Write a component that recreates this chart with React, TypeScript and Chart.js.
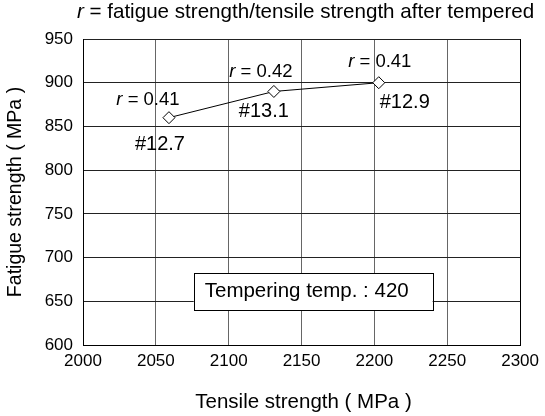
import React, { useEffect, useRef } from "react";
import { Chart, registerables } from "chart.js";

Chart.register(...registerables);

// Steel grades tempered at 420: tensile vs fatigue strength (MPa)
const tensileStrength = [2059, 2131, 2203];
const fatigueStrength = [860, 890, 900];
const ratioValues = ["0.41", "0.42", "0.41"];
const gradeLabels = ["#12.7", "#13.1", "#12.9"];

const xTickValues = [2000, 2050, 2100, 2150, 2200, 2250, 2300];
const yTickValues = [600, 650, 700, 750, 800, 850, 900, 950];

const titleRest = " = fatigue strength/tensile strength after tempered";
const xAxisTitle = "Tensile strength ( MPa )";
const yAxisTitle = "Fatigue strength ( MPa )";
const noteText = "Tempering temp. : 420";
// note box corners in data units (x from/to, y from/to)
const noteBoxX = [2076, 2240];
const noteBoxY = [640, 682];

const FONT = '"Liberation Sans", Arial, sans-serif';

function drawRText(
  ctx: CanvasRenderingContext2D,
  rest: string,
  cx: number,
  cy: number,
  size: number
) {
  ctx.font = `italic ${size}px ${FONT}`;
  const wr = ctx.measureText("r").width;
  ctx.font = `${size}px ${FONT}`;
  const wRest = ctx.measureText(rest).width;
  const x0 = cx - (wr + wRest) / 2;
  ctx.textAlign = "left";
  ctx.textBaseline = "middle";
  ctx.font = `italic ${size}px ${FONT}`;
  ctx.fillText("r", x0, cy);
  ctx.font = `${size}px ${FONT}`;
  ctx.fillText(rest, x0 + wr, cy);
}

const labelsPlugin = {
  id: "fatigueLabels",
  afterDraw(chart: any) {
    const ctx: CanvasRenderingContext2D = chart.ctx;
    const xs = chart.scales.x;
    const ys = chart.scales.y;
    const area = chart.chartArea;
    ctx.save();
    ctx.fillStyle = "#000";

    // heading
    drawRText(ctx, titleRest, (area.left + area.right) / 2 + 4, 12, 20.6);

    // axis titles
    ctx.font = `20.5px ${FONT}`;
    ctx.textAlign = "center";
    ctx.textBaseline = "middle";
    ctx.fillText(xAxisTitle, (area.left + area.right) / 2 + 2, 402);
    ctx.save();
    ctx.font = `19.5px ${FONT}`;
    ctx.translate(16, (area.top + area.bottom) / 2);
    ctx.rotate(-Math.PI / 2);
    ctx.fillText(yAxisTitle, 0, 0);
    ctx.restore();

    // per-point annotations
    const meta = chart.getDatasetMeta(0);
    const rOffsets = [
      [-21, -18],
      [-13, -20],
      [1, -21],
    ];
    const gOffsets = [
      [-9, 27],
      [-10, 20],
      [26, 20],
    ];
    meta.data.forEach((pt: any, i: number) => {
      drawRText(
        ctx,
        " = " + ratioValues[i],
        pt.x + rOffsets[i][0],
        pt.y + rOffsets[i][1],
        18.5
      );
      ctx.font = `20px ${FONT}`;
      ctx.textAlign = "center";
      ctx.textBaseline = "middle";
      ctx.fillText(gradeLabels[i], pt.x + gOffsets[i][0], pt.y + gOffsets[i][1]);
    });

    // tempering note box
    const bx0 = xs.getPixelForValue(noteBoxX[0]);
    const bx1 = xs.getPixelForValue(noteBoxX[1]);
    const by0 = ys.getPixelForValue(noteBoxY[1]);
    const by1 = ys.getPixelForValue(noteBoxY[0]);
    ctx.fillStyle = "#fff";
    ctx.fillRect(bx0, by0, bx1 - bx0, by1 - by0);
    ctx.strokeStyle = "#000";
    ctx.lineWidth = 1;
    ctx.strokeRect(Math.round(bx0) + 0.5, Math.round(by0) + 0.5, Math.round(bx1 - bx0), Math.round(by1 - by0));
    ctx.fillStyle = "#000";
    ctx.font = `20.5px ${FONT}`;
    ctx.textAlign = "left";
    ctx.textBaseline = "middle";
    ctx.fillText(noteText, bx0 + 11, (by0 + by1) / 2);

    ctx.restore();
  },
};

export default function App() {
  const canvasRef = useRef<HTMLCanvasElement | null>(null);

  useEffect(() => {
    document.body.style.margin = "0";
    const canvas = canvasRef.current;
    if (!canvas) return;
    const chart = new Chart(canvas, {
      type: "scatter",
      data: {
        datasets: [
          {
            data: tensileStrength.map((x, i) => ({ x, y: fatigueStrength[i] })),
            showLine: true,
            borderColor: "#000",
            borderWidth: 1,
            pointStyle: "rectRot",
            pointRadius: 6,
            pointBackgroundColor: "#fff",
            pointBorderColor: "#000",
            pointBorderWidth: 1,
          },
        ],
      },
      options: {
        responsive: false,
        animation: false,
        devicePixelRatio: 1,
        layout: { padding: { top: 39, right: 18, left: 0, bottom: 0 } },
        plugins: {
          legend: { display: false },
          tooltip: { enabled: false },
          title: { display: false },
        },
        scales: {
          x: {
            type: "linear",
            min: 2000,
            max: 2300,
            afterBuildTicks: (scale: any) => {
              scale.ticks = xTickValues.map((v) => ({ value: v }));
            },
            afterFit: (scale: any) => {
              scale.height = 71;
            },
            grid: {
              drawTicks: false,
              color: (c: any) =>
                c.index === xTickValues.length - 1 ? "#000" : "#666",
              lineWidth: 1,
            },
            border: { color: "#000", width: 1 },
            ticks: {
              padding: 6,
              color: "#000",
              font: { family: FONT, size: 17 },
              callback: (v: any) => String(v),
            },
          },
          y: {
            type: "linear",
            min: 600,
            max: 950,
            afterBuildTicks: (scale: any) => {
              scale.ticks = yTickValues.map((v) => ({ value: v }));
            },
            afterFit: (scale: any) => {
              scale.width = 83;
            },
            grid: {
              drawTicks: false,
              color: "#222",
              lineWidth: 1,
            },
            border: { color: "#000", width: 1 },
            ticks: {
              padding: 10,
              color: "#000",
              font: { family: FONT, size: 17 },
              callback: (v: any) => String(v),
            },
          },
        },
      },
      plugins: [labelsPlugin],
    });
    return () => chart.destroy();
  }, []);

  return (
    <div style={{ position: "fixed", left: 0, top: 0, width: 545, height: 416, background: "#fff" }}>
      <canvas ref={canvasRef} width={545} height={416} style={{ width: 545, height: 416 }} />
    </div>
  );
}
